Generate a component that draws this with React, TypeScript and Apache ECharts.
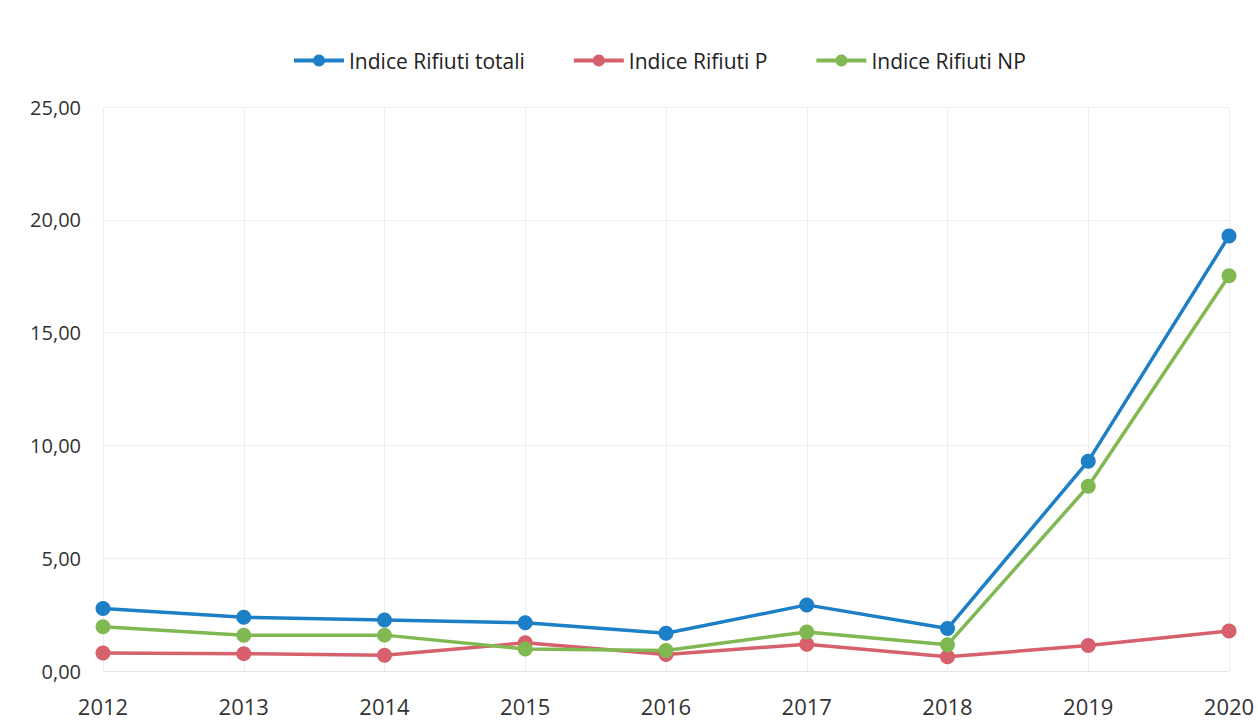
import React, { useEffect, useRef } from "react";
import * as echarts from "echarts";

const years = ["2012", "2013", "2014", "2015", "2016", "2017", "2018", "2019", "2020"];
const totali = [2.77, 2.38, 2.26, 2.14, 1.67, 2.93, 1.88, 9.3, 19.28];
const rifiutiP = [0.8, 0.77, 0.7, 1.25, 0.73, 1.19, 0.63, 1.13, 1.77];
const rifiutiNP = [1.96, 1.58, 1.59, 0.98, 0.91, 1.73, 1.16, 8.19, 17.52];
const yTicks = [0, 5, 10, 15, 20, 25];

const FONT = "'Open Sans', 'Liberation Sans', sans-serif";

export default function App() {
  const ref = useRef<HTMLDivElement>(null);
  useEffect(() => {
    if (!ref.current) return;
    const chart = echarts.init(ref.current, undefined, { renderer: "svg" });
    const mk = (name: string, data: number[], color: string, z: number) => ({
      name,
      type: "line",
      data,
      symbol: "circle",
      symbolSize: 15,
      lineStyle: { width: 3.5, color },
      itemStyle: { color },
      z,
    });
    chart.setOption({
      animation: false,
      backgroundColor: "#ffffff",
      legend: {
        top: 45,
        left: 287,
        itemWidth: 50,
        itemHeight: 15,
        itemGap: 47,
        lineStyle: { width: 4 },
        textStyle: { fontFamily: FONT, fontSize: 21, color: "#222" },
        data: ["Indice Rifiuti totali", "Indice Rifiuti P", "Indice Rifiuti NP"],
      },
      grid: { left: 103, right: 29, top: 107, bottom: 54, containLabel: false },
      xAxis: {
        type: "category",
        data: years,
        boundaryGap: false,
        axisLine: { show: true, lineStyle: { color: "#e4e4ec", width: 1 } },
        axisTick: { show: false },
        splitLine: { show: true, lineStyle: { color: "#ededf2", width: 1 } },
        axisLabel: { fontFamily: FONT, fontSize: 22, color: "#333", margin: 24 },
      },
      yAxis: {
        type: "value",
        min: yTicks[0],
        max: yTicks[yTicks.length - 1],
        interval: 5,
        axisLine: { show: false },
        axisTick: { show: false },
        splitLine: { show: true, lineStyle: { color: "#ededf2", width: 1 } },
        axisLabel: {
          fontFamily: FONT,
          fontSize: 20,
          color: "#333",
          margin: 22,
          formatter: (v: number) => v.toFixed(2).replace(".", ","),
        },
      },
      series: [
        mk("Indice Rifiuti totali", totali, "#1d7fc6", 5),
        mk("Indice Rifiuti P", rifiutiP, "#d6606b", 3),
        mk("Indice Rifiuti NP", rifiutiNP, "#80b852", 4),
      ],
    });
    return () => chart.dispose();
  }, []);
  return (
    <div
      ref={ref}
      style={{ position: "fixed", left: 0, top: 0, width: 1258, height: 725, background: "#fff" }}
    />
  );
}
